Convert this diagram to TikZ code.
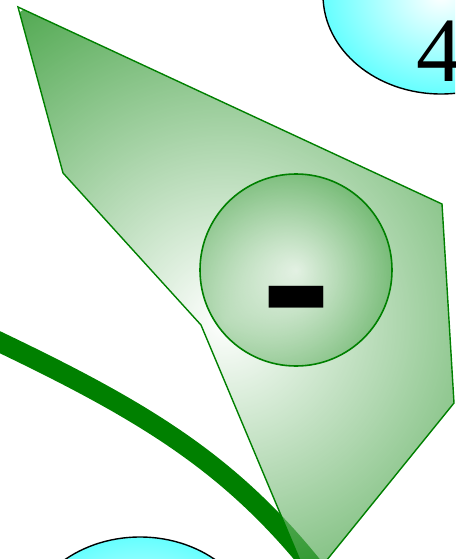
\documentclass[tikz,border=0pt]{standalone}
\usepackage{fontspec}
\setmainfont{Liberation Serif}
\usetikzlibrary{shapes.geometric}
\definecolor{leafgreen}{HTML}{008000}
\definecolor{statecyan}{HTML}{66FFFF}

\begin{document}
\begin{tikzpicture}[
    x=1pt, y=-1pt,
    state/.style={ellipse, draw=black, line width=1.4pt,
                  minimum width=236pt, minimum height=198pt, inner sep=0pt,
                  inner color=white, outer color=statecyan},
    stem/.style={draw=leafgreen, line width=20pt},
    leaf/.style={draw=leafgreen, line width=1.4pt, fill opacity=0.67},
    hub/.style={circle, draw=leafgreen, line width=1.6pt, minimum size=192pt,
                inner sep=0pt, inner color=white, outer color=leafgreen,
                fill opacity=0.3},
    sign/.style={font=\fontsize{210}{210}\selectfont\bfseries, inner sep=0pt},
    lbl/.style={font=\fontsize{92}{92}\selectfont, inner sep=0pt},
  ]
  \clip (0,0) rectangle (455,559);

  % States cut by the frame.
  \node[state] (s4) at (441,-5) {};
  \node[state] (s0) at (140,636) {};
  \node[lbl, anchor=base west] (s4lbl) at (416,82) {4};

  % Stem under the leaf.
  \coordinate (stemin) at (-30,328);
  \coordinate (stemout) at (322,578);
  \draw[stem] (stemin) .. controls (140,408) and (230,460) .. (stemout);

  % Leaf, shaded from its light spot outwards.
  \coordinate (leafc) at (225,320);
  \path[leaf, path picture={\shade[inner color=white, outer color=leafgreen]
      (leafc) circle (370);}]
    (18,7) -- (63,173) -- (201,325) -- (309,582) -- (454,403) -- (442,204) -- cycle;

  \node[hub] (hub) at (296,270) {};
  \node[sign, anchor=base] (minus) at (296.5,357) {\scalebox{1}[1.22]{-}};
\end{tikzpicture}
\end{document}
